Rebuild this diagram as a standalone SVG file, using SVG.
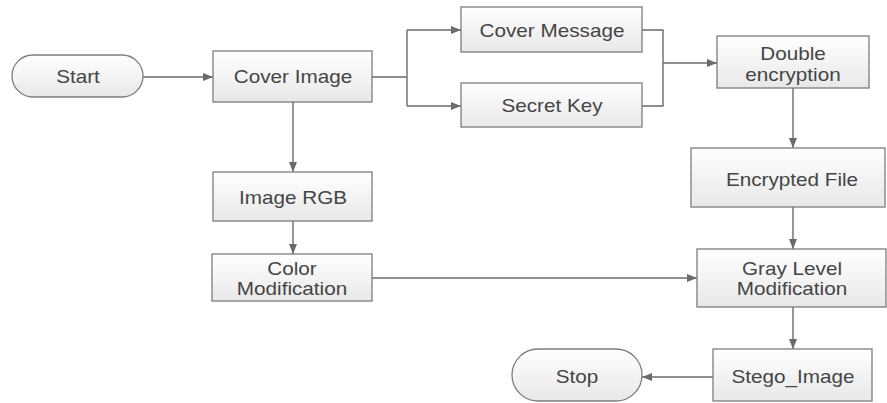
<svg xmlns="http://www.w3.org/2000/svg" width="887" height="403" viewBox="0 0 887 403">
<defs>
<linearGradient id="g" x1="0" y1="0" x2="0" y2="1">
<stop offset="0" stop-color="#ffffff"/>
<stop offset="1" stop-color="#e8e8e8"/>
</linearGradient>
<marker id="a" viewBox="0 0 10 10" refX="10" refY="5" markerWidth="10" markerHeight="10" markerUnits="userSpaceOnUse" orient="auto">
<path d="M0,1 L10,5 L0,9 z" fill="#6a6a6a"/>
</marker>
</defs>
<style>
.n{fill:url(#g);stroke:#7d7d7d;stroke-width:1.3}
.t{font-family:"Liberation Sans",Arial,sans-serif;font-size:18px;fill:#454545;text-anchor:middle}
.c{fill:none;stroke:#6a6a6a;stroke-width:1.4}
</style>
<rect width="887" height="403" fill="#ffffff"/>
<g id="connectors">
<path class="c" d="M143,77 H213" marker-end="url(#a)"/>
<path class="c" d="M372,77 H407"/>
<path class="c" d="M407,30 V106"/>
<path class="c" d="M407,30 H461" marker-end="url(#a)"/>
<path class="c" d="M407,106 H461" marker-end="url(#a)"/>
<path class="c" d="M642,30 H663 V106 H642"/>
<path class="c" d="M663,63 H717" marker-end="url(#a)"/>
<path class="c" d="M293,102 V172" marker-end="url(#a)"/>
<path class="c" d="M293,221 V254" marker-end="url(#a)"/>
<path class="c" d="M372,278 H697" marker-end="url(#a)"/>
<path class="c" d="M793,88 V148" marker-end="url(#a)"/>
<path class="c" d="M793,207 V249" marker-end="url(#a)"/>
<path class="c" d="M793,307 V349" marker-end="url(#a)"/>
<path class="c" d="M713,377 H642" marker-end="url(#a)"/>
</g>
<g id="start"><rect class="n" x="12" y="55" width="131" height="42" rx="21"/><text class="t" transform="translate(78 83) scale(1.15 1)">Start</text></g>
<g id="cover-image"><rect class="n" x="213" y="51" width="159" height="51"/><text class="t" transform="translate(293 83) scale(1.15 1)">Cover Image</text></g>
<g id="cover-message"><rect class="n" x="461" y="7" width="181" height="45"/><text class="t" transform="translate(552 37) scale(1.15 1)">Cover Message</text></g>
<g id="secret-key"><rect class="n" x="461" y="83" width="181" height="44"/><text class="t" transform="translate(552 112) scale(1.15 1)">Secret Key</text></g>
<g id="double-encryption"><rect class="n" x="717" y="36" width="152" height="52"/><text class="t" transform="translate(793 60) scale(1.15 1)">Double</text><text class="t" transform="translate(793 81) scale(1.15 1)">encryption</text></g>
<g id="encrypted-file"><rect class="n" x="691" y="148" width="194" height="59"/><text class="t" transform="translate(792 186) scale(1.15 1)">Encrypted File</text></g>
<g id="image-rgb"><rect class="n" x="213" y="172" width="159" height="49"/><text class="t" transform="translate(293 204) scale(1.15 1)">Image RGB</text></g>
<g id="color-modification"><rect class="n" x="212" y="254" width="160" height="47"/><text class="t" transform="translate(292 275) scale(1.15 1)">Color</text><text class="t" transform="translate(292 295) scale(1.15 1)">Modification</text></g>
<g id="gray-level"><rect class="n" x="697" y="249" width="189" height="58"/><text class="t" transform="translate(792 275) scale(1.15 1)">Gray Level</text><text class="t" transform="translate(792 295) scale(1.15 1)">Modification</text></g>
<g id="stego-image"><rect class="n" x="713" y="349" width="159" height="52"/><text class="t" transform="translate(793 383) scale(1.15 1)">Stego_Image</text></g>
<g id="stop"><rect class="n" x="512" y="349" width="130" height="52" rx="26"/><text class="t" transform="translate(577 383) scale(1.15 1)">Stop</text></g>
</svg>
